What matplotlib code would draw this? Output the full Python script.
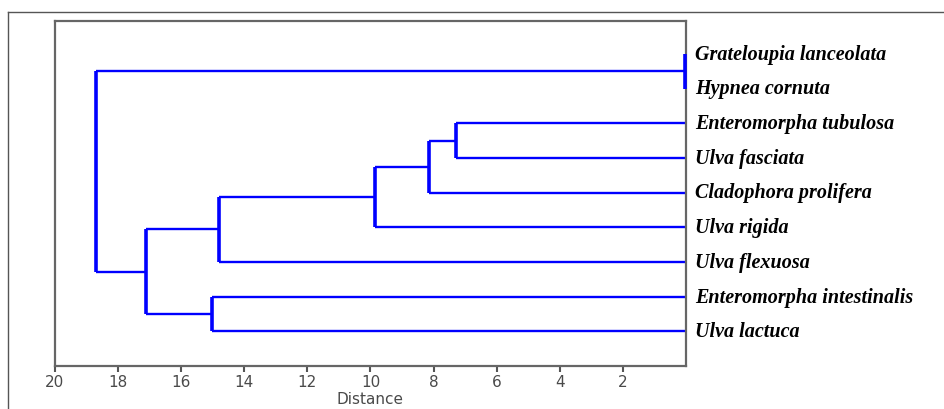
import matplotlib.pyplot as plt
from matplotlib.lines import Line2D

species = [
    "Grateloupia lanceolata",
    "Hypnea cornuta",
    "Enteromorpha tubulosa",
    "Ulva fasciata",
    "Cladophora prolifera",
    "Ulva rigida",
    "Ulva flexuosa",
    "Enteromorpha intestinalis",
    "Ulva lactuca",
]
# joins: (cluster a, cluster b, distance); new clusters get ids 9, 10, ...
join_a = [0, 2, 10, 11, 12, 7, 13, 9]
join_b = [1, 3, 4, 5, 6, 8, 14, 15]
join_dist = [0.03, 7.30, 8.15, 9.86, 14.79, 15.03, 17.12, 18.71]
xticks = [20, 18, 16, 14, 12, 10, 8, 6, 4, 2]

fig = plt.figure(figsize=(9.45, 4.10), dpi=100)
ax = fig.add_axes([55 / 945, 1 - 367 / 410, 631 / 945, 345 / 410])

pos = {i: (0.0, float(i)) for i in range(len(species))}
blue = "#0000ff"
for k in range(len(join_a)):
    xa, ya = pos[join_a[k]]
    xb, yb = pos[join_b[k]]
    h = join_dist[k]
    ax.plot([xa, h], [ya, ya], color=blue, lw=1.7, solid_capstyle="butt", clip_on=False)
    ax.plot([xb, h], [yb, yb], color=blue, lw=1.7, solid_capstyle="butt", clip_on=False)
    ax.plot([h, h], [ya, yb], color=blue, lw=2.6, solid_capstyle="butt", clip_on=False, zorder=3)
    pos[len(species) + k] = (h, (ya + yb) / 2)

ax.set_xlim(20, 0)
ax.set_ylim(9.0, -0.95)
ax.set_xticks(xticks)
ax.set_xticklabels([str(t) for t in xticks])
ax.set_yticks([])
ax.tick_params(axis="x", direction="out", length=4, width=1.5, color="#555555",
               labelsize=11, labelcolor="#4a4a4a", pad=2)
for lab in ax.get_xticklabels():
    lab.set_family("DejaVu Sans")
ax.set_xlabel("Distance", fontsize=11, color="#4a4a4a", family="DejaVu Sans", labelpad=1)
for s in ax.spines.values():
    s.set_color("#666666")
    s.set_linewidth(1.6)

for i, name in enumerate(species):
    ax.text(-0.28, i + 0.14, name, fontsize=14.5, fontweight="bold", fontstyle="italic",
            family="Liberation Serif", va="baseline", ha="left", clip_on=False)

# outer frame (top and left edge)
fig.add_artist(Line2D([8 / 945, 1], [1 - 13 / 410, 1 - 13 / 410], color="#555555", lw=1.0))
fig.add_artist(Line2D([8 / 945, 8 / 945], [0, 1 - 13 / 410], color="#555555", lw=1.0))

fig.savefig("out.png", dpi=100)
